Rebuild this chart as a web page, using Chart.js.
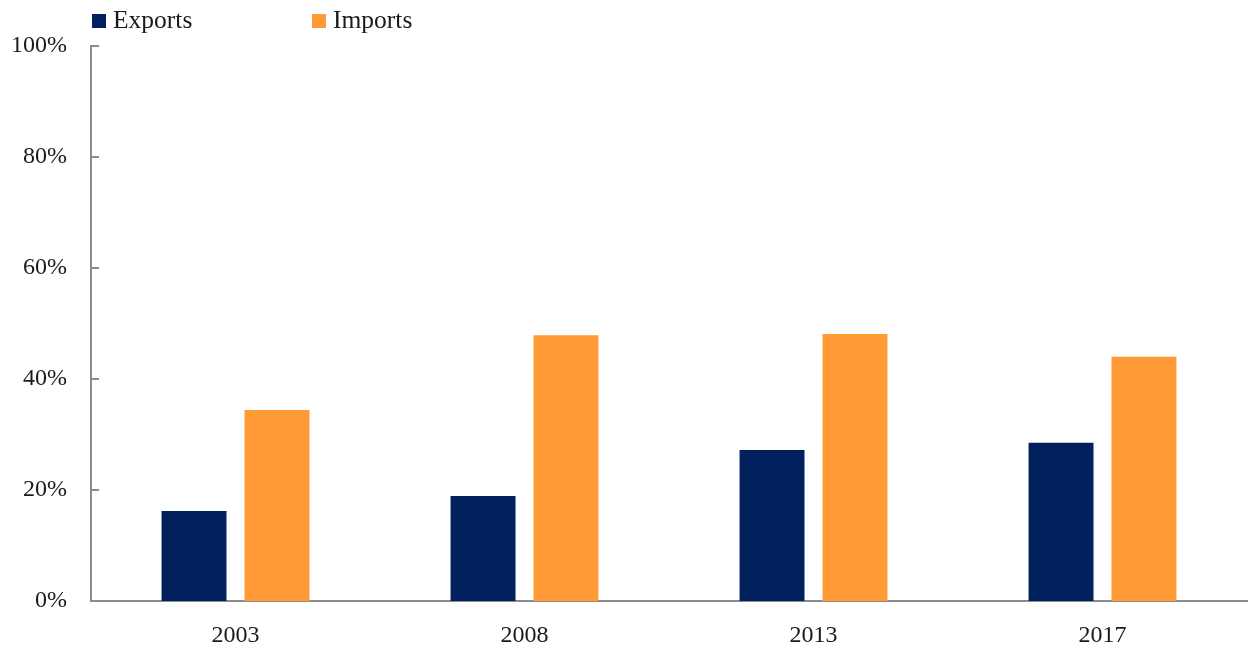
<!DOCTYPE html>
<html>
<head>
<meta charset="utf-8">
<script src="https://cdn.jsdelivr.net/npm/chart.js@4/dist/chart.umd.min.js"></script>
<style>
  html, body { margin: 0; padding: 0; background: #fff; }
  #wrap { position: relative; width: 1249px; height: 646px; }
  #legend { position: absolute; left: 0; top: 0; width: 1249px; height: 40px; font-family: "Liberation Serif", "DejaVu Serif", serif; font-size: 25.5px; color: #1a1a1a; }
  .li { position: absolute; white-space: nowrap; line-height: 26px; }
  .sw { position: absolute; top: 14px; width: 14px; height: 14px; }
</style>
</head>
<body>
<div id="wrap">
  <canvas id="c" width="1249" height="646"></canvas>
  <div id="legend"></div>
</div>
<script>
const categories = ["2003", "2008", "2013", "2017"];
const exportsValues = [16.2, 18.9, 27.2, 28.5];
const importsValues = [34.4, 47.9, 48.1, 44.0];
const seriesNames = ["Exports", "Imports"];
const seriesColors = ["#00215E", "#FF9A36"];
const yTicks = [0, 20, 40, 60, 80, 100];

// HTML legend
const legend = document.getElementById('legend');
const legendX = [92, 312];
seriesNames.forEach((n, i) => {
  const sw = document.createElement('div');
  sw.className = 'sw';
  sw.style.left = legendX[i] + 'px';
  sw.style.background = seriesColors[i];
  legend.appendChild(sw);
  const t = document.createElement('div');
  t.className = 'li';
  t.style.left = (legendX[i] + 21) + 'px';
  t.style.top = '7px';
  t.textContent = n;
  legend.appendChild(t);
});

const innerTicks = {
  id: 'innerTicks',
  afterDatasetsDraw(chart) {
    const y = chart.scales.y;
    const ctx = chart.ctx;
    ctx.save();
    ctx.strokeStyle = '#8c8c8c';
    ctx.lineWidth = 2;
    yTicks.forEach(v => {
      const py = Math.round(y.getPixelForValue(v));
      ctx.beginPath();
      ctx.moveTo(y.right, py);
      ctx.lineTo(y.right + 8, py);
      ctx.stroke();
    });
    ctx.restore();
  }
};

Chart.defaults.font.family = '"Liberation Serif", "DejaVu Serif", serif';
Chart.defaults.font.size = 24;
Chart.defaults.color = '#1a1a1a';

new Chart(document.getElementById('c'), {
  type: 'bar',
  data: {
    labels: categories,
    datasets: [
      { label: seriesNames[0], data: exportsValues, backgroundColor: seriesColors[0] },
      { label: seriesNames[1], data: importsValues, backgroundColor: seriesColors[1] }
    ]
  },
  options: {
    responsive: false,
    animation: false,
    categoryPercentage: 0.574,
    barPercentage: 0.783,
    layout: { padding: { top: 46, right: 2, left: 0, bottom: 0 } },
    plugins: { legend: { display: false }, tooltip: { enabled: false } },
    scales: {
      x: {
        grid: { display: false, drawTicks: false },
        border: { display: true, color: '#8c8c8c', width: 2 },
        ticks: { padding: 20, font: { size: 24 } },
        afterFit(s) { s.height = 45; }
      },
      y: {
        min: 0, max: 100,
        afterBuildTicks(s) { s.ticks = yTicks.map(v => ({ value: v })); },
        grid: { display: false, drawTicks: false },
        border: { display: true, color: '#8c8c8c', width: 2 },
        ticks: { padding: 24, callback: v => v + '%', font: { size: 24 } },
        afterFit(s) { s.width = 91; }
      }
    }
  },
  plugins: [innerTicks]
});
</script>
</body>
</html>
